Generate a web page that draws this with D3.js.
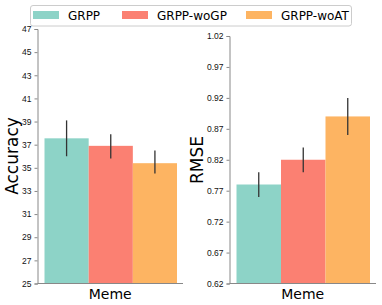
<!DOCTYPE html>
<html>
<head>
<meta charset="utf-8">
<script src="https://cdn.jsdelivr.net/npm/d3@7"></script>
<style>
body { margin: 0; background: #fff; }
svg { font-family: "DejaVu Sans", sans-serif; }
</style>
</head>
<body>
<div id="chart"></div>
<script>
const models = ["GRPP", "GRPP-woGP", "GRPP-woAT"];
const colors = ["#8dd3c7", "#fb8072", "#fdb462"];
const category = ["Meme"];

const accValues = [37.55, 36.9, 35.4];
const accLow = [36.0, 35.8, 34.5];
const accHigh = [39.1, 37.9, 36.5];
const accTicks = [25, 27, 29, 31, 33, 35, 37, 39, 41, 43, 45, 47];

const rmseValues = [0.78, 0.82, 0.89];
const rmseLow = [0.76, 0.80, 0.86];
const rmseHigh = [0.80, 0.84, 0.92];
const rmseTicks = [0.62, 0.67, 0.72, 0.77, 0.82, 0.87, 0.92, 0.97, 1.02];

const W = 382, H = 305;

const svg = d3.select("#chart").append("svg")
    .attr("width", W)
    .attr("height", H);

// draws one subplot
function panel(opts) {
    const y = d3.scaleLinear().domain(opts.domain).range([283.5, opts.top]);
    const x = d3.scaleBand().domain(models).range([opts.x0 + 7, opts.x1 - 6]);
    const g = svg.append("g");

    g.selectAll(".bar")
        .data(models)
        .enter().append("rect")
        .attr("x", d => x(d))
        .attr("y", (d, i) => y(opts.values[i]))
        .attr("width", x.bandwidth())
        .attr("height", (d, i) => y(opts.domain[0]) - y(opts.values[i]))
        .attr("fill", (d, i) => colors[i]);

    g.selectAll(".err")
        .data(models)
        .enter().append("line")
        .attr("x1", d => x(d) + x.bandwidth() / 2)
        .attr("x2", d => x(d) + x.bandwidth() / 2)
        .attr("y1", (d, i) => y(opts.low[i]))
        .attr("y2", (d, i) => y(opts.high[i]))
        .attr("stroke", "#333")
        .attr("stroke-width", 1.3);

    const yAxis = d3.axisLeft(y).tickValues(opts.ticks).tickSize(3).tickFormat(opts.fmt);
    const ya = g.append("g").attr("transform", `translate(${opts.x0},0)`).call(yAxis);
    ya.select(".domain").attr("stroke", "#888");
    ya.selectAll(".tick line").attr("stroke", "#888");
    ya.selectAll("text").attr("font-size", 8.5).attr("fill", "#111");

    g.append("line")
        .attr("x1", opts.x0).attr("x2", opts.x1)
        .attr("y1", 283.5).attr("y2", 283.5)
        .attr("stroke", "#888");

    g.append("text")
        .attr("x", (opts.x0 + opts.x1) / 2)
        .attr("y", 298.5)
        .attr("text-anchor", "middle")
        .attr("font-size", 14)
        .text(category[0]);

    g.append("text")
        .attr("transform", `translate(${opts.labelX},${opts.labelY}) rotate(-90)`)
        .attr("text-anchor", "middle")
        .attr("font-size", 17)
        .text(opts.label);
}

panel({x0: 37.5, x1: 183, top: 29, domain: [25, 47], values: accValues, low: accLow, high: accHigh,
       ticks: accTicks, fmt: d3.format("d"), label: "Accuracy", labelX: 18, labelY: 156});
panel({x0: 229.5, x1: 376, top: 36, domain: [0.62, 1.02], values: rmseValues, low: rmseLow, high: rmseHigh,
       ticks: rmseTicks, fmt: d3.format(".2f"), label: "RMSE", labelX: 203, labelY: 160});

// legend
const leg = svg.append("g");
leg.append("rect")
    .attr("x", 30.5).attr("y", 5.5)
    .attr("width", 321).attr("height", 20.5)
    .attr("rx", 2.5)
    .attr("fill", "#fff")
    .attr("stroke", "#ccc");

const legX = [33, 122, 246];
const items = leg.selectAll(".item")
    .data(models)
    .enter().append("g")
    .attr("transform", (d, i) => `translate(${legX[i]},0)`);
items.append("rect")
    .attr("x", 0).attr("y", 11)
    .attr("width", 26).attr("height", 8)
    .attr("fill", (d, i) => colors[i]);
items.append("text")
    .attr("x", 35).attr("y", 19.5)
    .attr("font-size", 12)
    .text(d => d);
</script>
</body>
</html>
